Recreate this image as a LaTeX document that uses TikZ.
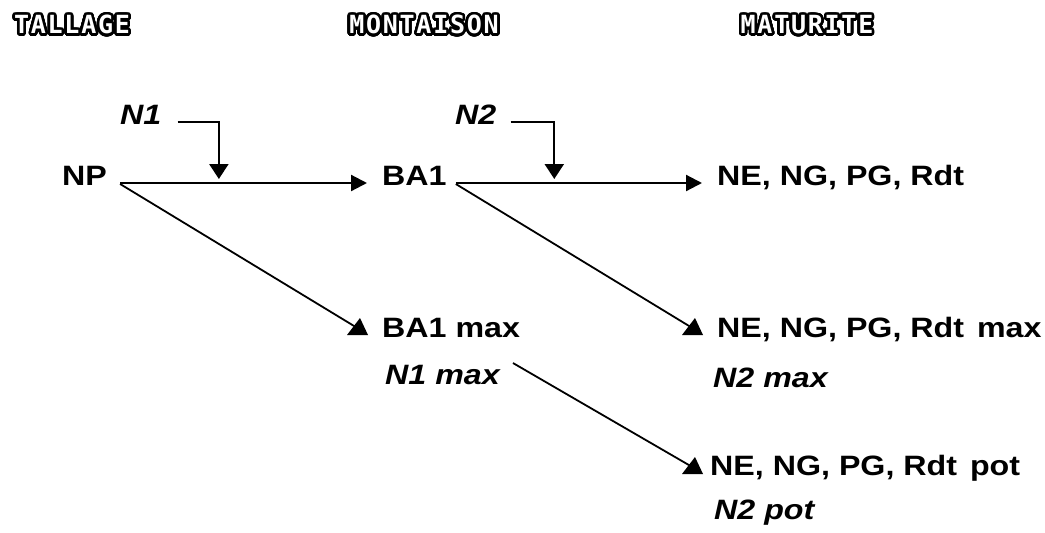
\documentclass[tikz,border=0pt]{standalone}
\usepackage{fontspec}
\setmainfont{Liberation Sans}[FakeStretch=1.15]
\newfontfamily\hdrfont{DejaVu Sans Mono}[LetterSpace=7]
\usepackage{contour}
\contourlength{2.6pt}
\contournumber{40}
\usetikzlibrary{arrows.meta,calc}
\begin{document}
\begin{tikzpicture}[x=1pt,y=-1pt,
  lbl/.style={inner sep=0pt, anchor=base west, font=\fontsize{28}{31}\selectfont\bfseries},
  ilbl/.style={inner sep=0pt, anchor=base west, font=\fontsize{28}{31}\selectfont\bfseries\itshape},
  hdr/.style={inner sep=0pt, text=white, font=\hdrfont\fontsize{25}{27}\selectfont\bfseries},
  main/.style={line width=2.2pt, -{Triangle[length=16pt,width=16pt]}},
  drop/.style={line width=2.2pt, -{Triangle[length=15pt,width=19pt]}},
  diag/.style={line width=1.8pt},
  head/.style={fill=black},
]
\useasboundingbox (0,0) rectangle (1045,533);
% headers
\node[hdr] (h1) at (72,26) {\contour{black}{TALLAGE}};
\node[hdr] (h2) at (424,26) {\contour{black}{MONTAISON}};
\node[hdr] (h3) at (807,26) {\contour{black}{MATURITE}};
% labels
\node[lbl] (np) at (62,185) {NP};
\node[lbl] (ba1) at (382,185) {BA1};
\node[lbl] (r1) at (717,185) {NE, NG, PG, Rdt};
\node[ilbl] (n1) at (120,124) {N1};
\node[ilbl] (n2) at (455,124) {N2};
\node[lbl] (ba1max) at (382,337) {BA1 max};
\node[ilbl] (n1max) at (385,384) {N1 max};
\node[lbl] (r2) at (717,337) {NE, NG, PG, Rdt\hspace{4pt} max};
\node[ilbl] (n2max) at (713,387) {N2 max};
\node[lbl] (r3) at (710,475) {NE, NG, PG, Rdt\hspace{4pt} pot};
\node[ilbl] (n2pot) at (714,519) {N2 pot};
% main horizontal arrows
\coordinate (a1) at ([xshift=13pt,yshift=2pt]np.base east);
\coordinate (b1) at ([xshift=-15pt,yshift=2pt]ba1.base west);
\coordinate (a2) at ([xshift=9pt,yshift=2pt]ba1.base east);
\coordinate (b2) at ([xshift=-15pt,yshift=2pt]r1.base west);
\draw[main] (a1) -- (b1);
\draw[main] (a2) -- (b2);
% inputs N1, N2
\coordinate (m1) at ($(a1)!0.4!(b1)$);
\coordinate (m2) at ($(a2)!0.4!(b2)$);
\draw[drop] ([xshift=16pt,yshift=2pt]n1.base east) -| ([yshift=4pt]m1);
\draw[drop] ([xshift=14pt,yshift=2pt]n2.base east) -| ([yshift=4pt]m2);
% diagonal arrows
\coordinate (d1s) at ([xshift=13pt,yshift=1pt]np.base east);
\coordinate (d1e) at ([xshift=-14pt,yshift=2pt]ba1max.base west);
\coordinate (d2s) at ([xshift=9pt,yshift=1pt]ba1.base east);
\coordinate (d2e) at ([xshift=-14pt,yshift=2pt]r2.base west);
\coordinate (d3s) at ([xshift=13pt,yshift=21pt]n1max.base east);
\coordinate (d3e) at ([xshift=-7pt,yshift=1pt]r3.base west);
\draw[diag] (d1s) -- ($(d1e)+(-9,-6)$);
\draw[diag] (d2s) -- ($(d2e)+(-9,-6)$);
\draw[diag] (d3s) -- ($(d3e)+(-9,-6)$);
\fill[head] (d1e) -- ++(-21,0) -- ++(13,-17) -- cycle;
\fill[head] (d2e) -- ++(-21,0) -- ++(13,-17) -- cycle;
\fill[head] (d3e) -- ++(-21,0) -- ++(13,-17) -- cycle;
\end{tikzpicture}
\end{document}
